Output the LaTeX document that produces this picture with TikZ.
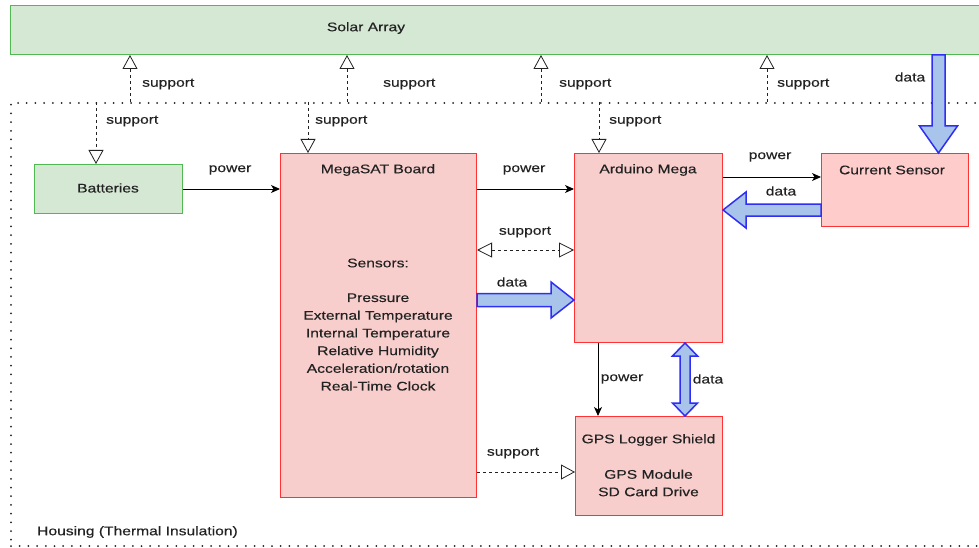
\documentclass[tikz,border=0pt]{standalone}
\usepackage{fontspec}
\setmainfont[FakeStretch=1.25,FakeBold=0.3]{Liberation Sans}
\usetikzlibrary{arrows.meta,calc}
\definecolor{gfill}{HTML}{D5E8D4}
\definecolor{gline}{HTML}{52B852}
\definecolor{rfill}{HTML}{F8CECC}
\definecolor{rfilltwo}{HTML}{FFCCCC}
\definecolor{rline}{HTML}{FF3333}
\definecolor{bfill}{HTML}{A9C4EB}
\definecolor{bline}{HTML}{2E2EF5}
\definecolor{txt}{HTML}{222222}
\newcommand\fatarrow[5]{%
  \coordinate (fatc) at ($(#2)!#5!(#1)$);
  \draw[fat] ($(#1)!#3!90:(#2)$) -- ($(fatc)!#3!90:(#2)$) -- ($(fatc)!#4!90:(#2)$) -- (#2)
    -- ($(fatc)!#4!-90:(#2)$) -- ($(fatc)!#3!-90:(#2)$) -- ($(#1)!#3!-90:(#2)$) -- cycle;}
\newcommand\fatdouble[5]{%
  \coordinate (fatca) at ($(#1)!#5!(#2)$);
  \coordinate (fatcb) at ($(#2)!#5!(#1)$);
  \draw[fat] (#1) -- ($(fatca)!#4!90:(#2)$) -- ($(fatca)!#3!90:(#2)$) -- ($(fatcb)!#3!90:(#2)$)
    -- ($(fatcb)!#4!90:(#2)$) -- (#2) -- ($(fatcb)!#4!-90:(#2)$) -- ($(fatcb)!#3!-90:(#2)$)
    -- ($(fatca)!#3!-90:(#2)$) -- ($(fatca)!#4!-90:(#2)$) -- cycle;}
\begin{document}
\begin{tikzpicture}[x=1pt,y=-1pt,
  every node/.style={font=\fontsize{12.5}{14}\selectfont, text=txt},
  greenbox/.style={draw=gline, fill=gfill, line width=1pt, inner sep=0pt, anchor=north west},
  redbox/.style={draw=rline, fill=rfill, line width=1pt, inner sep=0pt, anchor=north west},
  lbl/.style={inner sep=0pt},
  housingbox/.style={draw=txt, line width=2pt, line cap=round, dash pattern=on 0pt off 8.7pt, inner sep=0pt, anchor=north west},
  suparrow/.style={draw=txt, line width=0.8pt, dash pattern=on 3pt off 3pt, -{Triangle[open,length=14pt,width=15pt,fill=white]}},
  supboth/.style={draw=txt, line width=0.8pt, dash pattern=on 3pt off 3pt, {Triangle[open,length=15pt,width=15pt,fill=white]}-{Triangle[open,length=15pt,width=15pt,fill=white]}},
  powarrow/.style={draw=black, line width=0.9pt, -{Stealth[length=9pt,width=8pt,inset=2.5pt]}},
  fat/.style={draw=bline, fill=bfill, line width=1.5pt, line join=miter}]
\useasboundingbox (0,0) rectangle (979,548);
\clip (0,0) rectangle (979,548);
\fill[white] (0,0) rectangle (979,548);

% housing
\node[housingbox, minimum width=1000pt, minimum height=443pt] (housing) at (10,102) {};
\node[lbl, anchor=west] (hlabel) at (37,532) {Housing (Thermal Insulation)};

% solar array
\node[greenbox, minimum width=1000pt, minimum height=49pt] (solar) at (10,5) {};
\node[lbl] (solart) at (366,28) {Solar Array};

% boxes
\node[greenbox, minimum width=148pt, minimum height=49pt] (bat) at (34,164) {};
\node[lbl] (batt) at (108,188) {Batteries};

\node[redbox, minimum width=196pt, minimum height=344pt] (mega) at (280,153) {};
\node[lbl] (megat) at (378,170) {MegaSAT Board};
\node[lbl] (megas) at (378,263) {Sensors:};
\node[lbl, align=center, font=\fontsize{12.5}{17.7}\selectfont] (megal) at (378,342)
  {Pressure\\External Temperature\\Internal Temperature\\Relative Humidity\\Acceleration/rotation\\Real-Time Clock};

\node[redbox, minimum width=148pt, minimum height=189pt] (ard) at (574,153) {};
\node[lbl] (ardt) at (648,170) {Arduino Mega};

\node[redbox, fill=rfilltwo, minimum width=147pt, minimum height=73pt] (cur) at (821,153) {};
\node[lbl] (curt) at (892,170) {Current Sensor};

\node[redbox, minimum width=147pt, minimum height=99pt] (gps) at (575,416) {};
\node[lbl] (gpst) at (648.5,440) {GPS Logger Shield};
\node[lbl, align=center, font=\fontsize{12.5}{17.5}\selectfont] (gpsl) at (648.5,483) {GPS Module\\SD Card Drive};

% support up to solar array
\foreach \x/\lx in {130/142, 347/383, 541/559, 767/777}{
  \draw[suparrow] (\x,0 |- housing.north) -- (\x,0 |- solar.south);
  \node[lbl, anchor=west] at (\lx,84) {support};
}
% support down
\draw[suparrow] (96,0 |- housing.north) -- (96,0 |- bat.north);
\node[lbl, anchor=west] (s1) at (106,121) {support};
\draw[suparrow] (308,0 |- housing.north) -- (308,0 |- mega.north);
\node[lbl, anchor=west] (s2) at (315,121) {support};
\draw[suparrow] (599,0 |- housing.north) -- (599,0 |- ard.north);
\node[lbl, anchor=west] (s3) at (609,121) {support};

% power
\draw[powarrow] (bat.east) -- (mega.west |- bat.east);
\node[lbl] (p1) at (230,170) {power};
\draw[powarrow] (0,189 -| mega.east) -- (0,189 -| ard.west);
\node[lbl] (p2) at (524,170) {power};
\draw[powarrow] (0,177 -| ard.east) -- (0,177 -| cur.west);
\node[lbl] (p3) at (770,157) {power};
\draw[powarrow] (598,0 |- ard.south) -- (598,0 |- gps.north);
\node[lbl] (p4) at (622,379) {power};

% support between boards
\draw[supboth] (0,250 -| mega.east) -- (0,250 -| ard.west);
\node[lbl] (s4) at (525,232) {support};
\draw[suparrow] (0,472 -| mega.east) -- (0,472 -| gps.west);
\node[lbl] (s5) at (513,453) {support};

% data fat arrows
\coordinate (d1a) at (0,300 -| mega.east);
\coordinate (d1b) at (0,300 -| ard.west);
\fatarrow{d1a}{d1b}{6.5pt}{18pt}{23pt}
\node[lbl] (dt1) at (512,282) {data};

\coordinate (d2a) at (0,210 -| cur.west);
\coordinate (d2b) at (0,210 -| ard.east);
\fatarrow{d2a}{d2b}{6pt}{18pt}{23pt}
\node[lbl] (dt2) at (781,191) {data};

\coordinate (d3a) at (938.5,0 |- solar.south);
\coordinate (d3b) at (938.5,0 |- cur.north);
\fatarrow{d3a}{d3b}{6.5pt}{19pt}{27pt}
\node[lbl] (dt3) at (910,77) {data};

\coordinate (d4a) at (685,0 |- ard.south);
\coordinate (d4b) at (685,0 |- gps.north);
\fatdouble{d4a}{d4b}{5pt}{12.5pt}{13pt}
\node[lbl] (dt4) at (708,379) {data};
\end{tikzpicture}
\end{document}
